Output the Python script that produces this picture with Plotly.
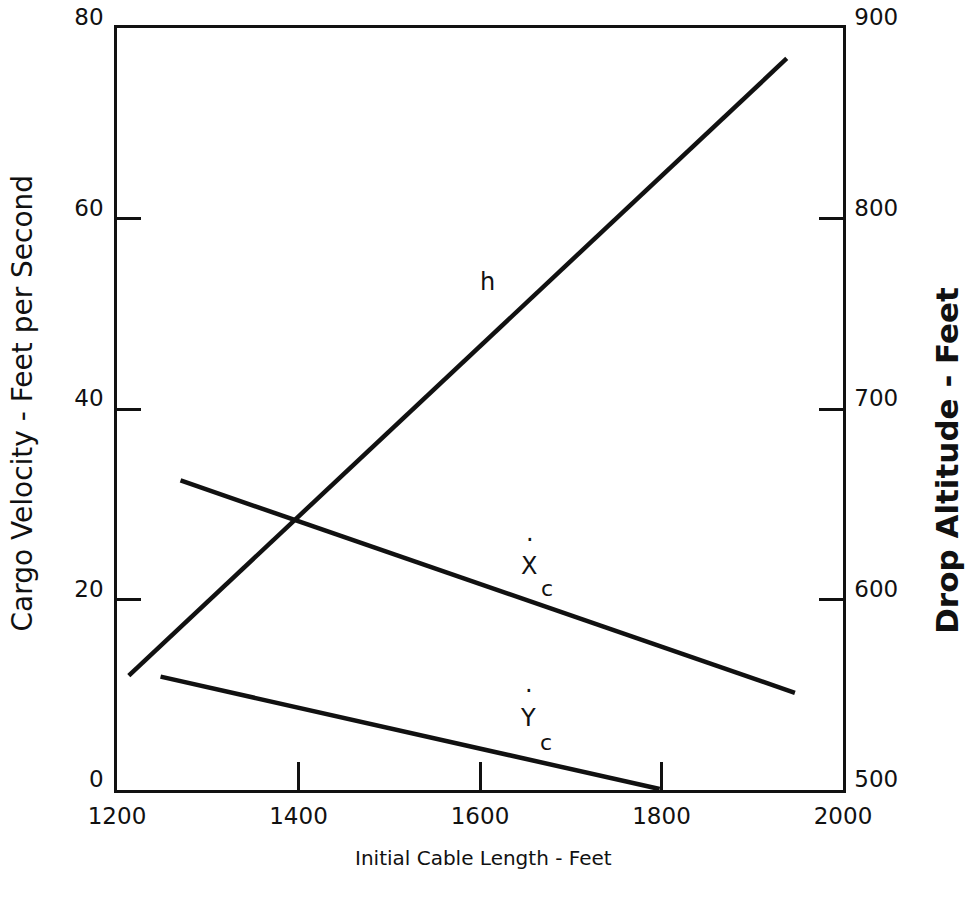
import plotly.graph_objects as go

# Initial cable length (ft) and the three curves
cable_h = [1213, 1938]
drop_alt_h = [560, 884]          # h, drop altitude (ft), right axis

cable_xc = [1270, 1947]
vel_xc = [32.5, 10.2]            # horizontal cargo velocity (ft/s)

cable_yc = [1248, 1798]
vel_yc = [11.9, 0.1]             # vertical cargo velocity (ft/s)

x_ticks = [1200, 1400, 1600, 1800, 2000]
y_left_ticks = [0, 20, 40, 60, 80]
y_right_ticks = [500, 600, 700, 800, 900]

FONT = "DejaVu Sans"
INK = "#111111"

fig = go.Figure()
line_style = dict(color=INK, width=4.5)

fig.add_trace(go.Scatter(x=cable_xc, y=vel_xc, mode="lines", line=line_style,
                         showlegend=False, hoverinfo="skip"))
fig.add_trace(go.Scatter(x=cable_yc, y=vel_yc, mode="lines", line=line_style,
                         showlegend=False, hoverinfo="skip"))
fig.add_trace(go.Scatter(x=cable_h, y=drop_alt_h, mode="lines", line=line_style,
                         yaxis="y2", showlegend=False, hoverinfo="skip"))

axis_font = dict(family=FONT, size=23, color=INK)

common = dict(tickwidth=2.5, tickcolor=INK, showline=True, linewidth=2.5,
              linecolor=INK, showgrid=False, zeroline=False, tickfont=axis_font,
              automargin=False)

fig.update_layout(
    width=968, height=910,
    margin=dict(l=117, r=125, t=28, b=120),
    paper_bgcolor="white", plot_bgcolor="white",
    xaxis=dict(range=[1200, 2000], tickvals=x_ticks, ticks="inside",
               ticklen=28, mirror=True, ticklabelstandoff=4, **common),
    yaxis=dict(range=[0, 80], tickvals=y_left_ticks, ticks="inside",
               ticklen=24, ticklabelshift=-11, ticklabelstandoff=6, **common),
    yaxis2=dict(range=[500, 900], tickvals=y_right_ticks, ticks="inside",
                ticklen=24, overlaying="y", side="right",
                ticklabelshift=-11, ticklabelstandoff=4, **common),
)

# Axis titles
fig.add_annotation(xref="paper", yref="paper", x=0.505, y=-0.089,
                   xanchor="center", yanchor="middle",
                   text="Initial Cable Length - Feet", showarrow=False,
                   font=dict(family=FONT, size=20, color=INK))
fig.add_annotation(xref="paper", yref="paper", x=-0.130, y=0.508,
                   xanchor="center", yanchor="middle",
                   text="Cargo Velocity - Feet per Second", showarrow=False,
                   textangle=-90, font=dict(family=FONT, size=28, color=INK))
fig.add_annotation(xref="paper", yref="paper", x=1.143, y=0.433,
                   xanchor="center", yanchor="middle",
                   text="<b>Drop Altitude - Feet</b>", showarrow=False,
                   textangle=-90, font=dict(family=FONT, size=31, color=INK))

# Curve labels
label_font = dict(family=FONT, size=24, color=INK)
sub_font = dict(family=FONT, size=22, color=INK)
fig.add_annotation(x=1608, y=53.3, text="h", showarrow=False, font=label_font)
fig.add_annotation(x=1653.5, y=23.5, text="X", showarrow=False, font=label_font)
fig.add_annotation(x=1674, y=21.2, text="c", showarrow=False, font=sub_font)
fig.add_annotation(x=1655.5, y=26.2, text="·", showarrow=False, font=label_font)
fig.add_annotation(x=1652.4, y=7.6, text="Y", showarrow=False, font=label_font)
fig.add_annotation(x=1673, y=5.0, text="c", showarrow=False, font=sub_font)
fig.add_annotation(x=1654.5, y=10.4, text="·", showarrow=False, font=label_font)

fig.write_html("out.html")
